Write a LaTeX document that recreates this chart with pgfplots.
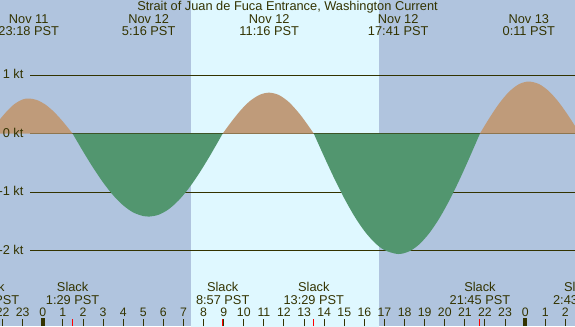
\documentclass[border=0pt]{standalone}
\usepackage{fontspec}
\setmainfont{Liberation Sans}
\usepackage{pgfplots}
\pgfplotsset{compat=1.18}

\definecolor{night}{HTML}{B0C4DE}
\definecolor{day}{HTML}{DFF8FF}
\definecolor{flood}{HTML}{BF9B7A}
\definecolor{ebb}{HTML}{52966F}
\definecolor{ink}{HTML}{333300}
\tikzset{lbl/.style={anchor=base, text=ink}}

\begin{document}
\fontsize{9.6}{11.5}\selectfont
\begin{tikzpicture}
\begin{axis}[
    width=431.25pt, height=244.5pt, scale only axis,
    xmin=-2.13, xmax=26.48,
    ymin=-3.291, ymax=2.285,
    axis line style={draw=none},
    axis background/.style={fill=night},
    axis on top,
    ytick=\empty,
    xtick={-2,...,26},
    xticklabels={22,23,0,1,2,3,4,5,6,7,8,9,10,11,12,13,14,15,16,17,18,19,20,21,22,23,0,1,2},
    xtick pos=left,
    tick align=inside,
    major tick length=5.25pt,
    major tick style={line width=0.75pt, draw=ink},
    minor xtick={1.483,8.95,13.483,21.75},
    minor tick length=5.25pt,
    minor x tick style={line width=0.75pt, draw=red},
    extra x ticks={0,24},
    extra x tick labels={},
    extra x tick style={major tick length=6pt, major tick style={line width=3pt, draw=ink}},
    xticklabel style={anchor=base, yshift=7pt, text=ink, font=\fontsize{9.2}{11}\selectfont},
]
% daylight
\addplot[fill=day, draw=none] coordinates {(7.373,-3.5) (16.74,-3.5) (16.74,2.5) (7.373,2.5)} -- cycle;

% grid lines
\addplot[ink, line width=0.75pt] coordinates {(-0.637,1) (26.6,1)};
\addplot[ink, line width=0.75pt] coordinates {(-0.637,0) (26.6,0)};
\addplot[ink, line width=0.75pt] coordinates {(-0.637,-1) (26.6,-1)};
\addplot[ink, line width=0.75pt] coordinates {(-0.637,-2) (26.6,-2)};

% flood, max 23:18 Nov 11
\addplot[fill=flood, draw=none, smooth] coordinates {
    (-2.68,0) (-2.2,0.215) (-1.8,0.378) (-1.4,0.508) (-1.0,0.584) (-0.7,0.60)
    (-0.3,0.575) (0.1,0.503) (0.5,0.390) (0.9,0.245) (1.2,0.121) (1.483,0)
} -- cycle;
% ebb, max 5:16
\addplot[fill=ebb, draw=none, smooth] coordinates {
    (1.483,0) (2.0,-0.303) (2.5,-0.582) (3.0,-0.836) (3.5,-1.055) (4.0,-1.228)
    (4.5,-1.349) (5.0,-1.411) (5.267,-1.42) (5.75,-1.390) (6.25,-1.297)
    (6.75,-1.145) (7.25,-0.942) (7.75,-0.695) (8.25,-0.418) (8.6,-0.211) (8.95,0)
} -- cycle;
% flood, max 11:16
\addplot[fill=flood, draw=none, smooth] coordinates {
    (8.95,0) (9.4,0.210) (9.85,0.401) (10.3,0.555) (10.8,0.665) (11.267,0.70)
    (11.75,0.659) (12.25,0.537) (12.75,0.348) (13.1,0.188) (13.483,0)
} -- cycle;
% ebb, max 17:41
\addplot[fill=ebb, draw=none, smooth] coordinates {
    (13.483,0) (14.0,-0.396) (14.5,-0.765) (15.0,-1.107) (15.5,-1.411)
    (16.0,-1.665) (16.5,-1.861) (17.0,-1.993) (17.683,-2.06) (18.25,-2.011)
    (18.75,-1.888) (19.25,-1.694) (19.75,-1.438) (20.25,-1.128) (20.75,-0.777)
    (21.25,-0.395) (21.75,0)
} -- cycle;
% flood, max 0:11 Nov 13
\addplot[fill=flood, draw=none, smooth] coordinates {
    (21.75,0) (22.2,0.255) (22.7,0.512) (23.2,0.716) (23.7,0.847) (24.183,0.89)
    (24.7,0.845) (25.2,0.719) (25.7,0.524) (26.2,0.280) (26.717,0)
} -- cycle;

% y labels
\node[anchor=base east, xshift=21pt, yshift=-2.8pt, text=ink] at (axis cs:-2.13,1) {1 kt};
\node[anchor=base east, xshift=21pt, yshift=-2.8pt, text=ink] at (axis cs:-2.13,0) {0 kt};
\node[anchor=base east, xshift=21pt, yshift=-2.8pt, text=ink] at (axis cs:-2.13,-1) {-1 kt};
\node[anchor=base east, xshift=21pt, yshift=-2.8pt, text=ink] at (axis cs:-2.13,-2) {-2 kt};

% title
\node[lbl, yshift=-7.9pt] at (rel axis cs:0.5,1) {Strait of Juan de Fuca Entrance, Washington Current};

% maximum current labels
\node[lbl, yshift=-17.5pt] at (axis cs:-0.7,2.285) {Nov 11};
\node[lbl, yshift=-27pt] at (axis cs:-0.7,2.285) {23:18 PST};
\node[lbl, yshift=-17.5pt] at (axis cs:5.267,2.285) {Nov 12};
\node[lbl, yshift=-27pt] at (axis cs:5.267,2.285) {5:16 PST};
\node[lbl, yshift=-17.5pt] at (axis cs:11.267,2.285) {Nov 12};
\node[lbl, yshift=-27pt] at (axis cs:11.267,2.285) {11:16 PST};
\node[lbl, yshift=-17.5pt] at (axis cs:17.683,2.285) {Nov 12};
\node[lbl, yshift=-27pt] at (axis cs:17.683,2.285) {17:41 PST};
\node[lbl, yshift=-17.5pt] at (axis cs:24.183,2.285) {Nov 13};
\node[lbl, yshift=-27pt] at (axis cs:24.183,2.285) {0:11 PST};

% slack labels
\node[lbl, yshift=25.7pt] at (axis cs:-2.68,-3.291) {Slack};
\node[lbl, yshift=16.5pt] at (axis cs:-2.68,-3.291) {21:19 PST};
\node[lbl, yshift=25.7pt] at (axis cs:1.483,-3.291) {Slack};
\node[lbl, yshift=16.5pt] at (axis cs:1.483,-3.291) {1:29 PST};
\node[lbl, yshift=25.7pt] at (axis cs:8.95,-3.291) {Slack};
\node[lbl, yshift=16.5pt] at (axis cs:8.95,-3.291) {8:57 PST};
\node[lbl, yshift=25.7pt] at (axis cs:13.483,-3.291) {Slack};
\node[lbl, yshift=16.5pt] at (axis cs:13.483,-3.291) {13:29 PST};
\node[lbl, yshift=25.7pt] at (axis cs:21.75,-3.291) {Slack};
\node[lbl, yshift=16.5pt] at (axis cs:21.75,-3.291) {21:45 PST};
\node[lbl, yshift=25.7pt] at (axis cs:26.717,-3.291) {Slack};
\node[lbl, yshift=16.5pt] at (axis cs:26.717,-3.291) {2:43 PST};
\end{axis}
\pgfresetboundingbox
\path[use as bounding box] (current axis.south west) rectangle (current axis.north east);
\end{tikzpicture}
\end{document}
